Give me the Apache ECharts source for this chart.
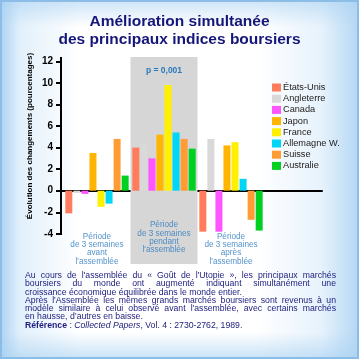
<!DOCTYPE html>
<html>
<head>
<meta charset="utf-8">
<script src="https://cdn.jsdelivr.net/npm/echarts@6/dist/echarts.min.js"></script>
<style>
  html, body { margin:0; padding:0; }
  #wrap {
    position:relative; width:359px; height:359px; box-sizing:border-box;
    border:2px solid #8BBDE6;
    background:
      linear-gradient(to bottom, rgba(170,210,242,0.55) 0%, rgba(255,255,255,0) 7%, rgba(255,255,255,0) 93%, rgba(170,210,242,0.6) 100%),
      linear-gradient(to right, #b0d5f3 0%, #e2f0fb 5%, #ffffff 22%, #ffffff 72%, #e6f2fc 90%, #b6d8f4 100%);
    overflow:hidden;
  }
  #chart { position:absolute; left:-2px; top:-2px; width:359px; height:359px; }
  #caption {
    position:absolute; left:23px; top:269px; width:311px;
    font-family:"Liberation Sans", Arial, sans-serif; font-size:8.7px; line-height:8.3px;
    color:#1c1c7c;
  }
  #caption div { white-space:nowrap; }
  #caption .j { text-align:justify; text-align-last:justify; }
</style>
</head>
<body>
<div id="wrap">
  <div id="chart"></div>
  <div id="caption">
    <div class="j">Au cours de l'assemblée du « Goût de l'Utopie », les principaux marchés</div>
    <div class="j">boursiers du monde ont augmenté indiquant simultanément une</div>
    <div>croissance économique équilibrée dans le monde entier.</div>
    <div class="j">Après l'Assemblée les mêmes grands marchés boursiers sont revenus à un</div>
    <div class="j">modèle similaire à celui observé avant l'assemblée, avec certains marchés</div>
    <div>en hausse, d’autres en baisse.</div>
    <div><b>Référence</b> : <i>Collected Papers</i>, Vol. 4 : 2730-2762, 1989.</div>
  </div>
</div>
<script>
const titleText = 'Amélioration simultanée\ndes principaux indices boursiers';
const yAxisTitle = 'Évolution des changements (pourcentages)';
const categories = ["Période\nde 3 semaines\navant\nl'assemblée", "Période\nde 3 semaines\npendant\nl'assemblée", "Période\nde 3 semaines\naprès\nl'assemblée"];
const countries = ['États-Unis', 'Angleterre', 'Canada', 'Japon', 'France', 'Allemagne W.', 'Suisse', 'Australie'];
const etatsUnis  = [-2.1, 4.0, -3.8];
const angleterre = [-0.2, 4.4, 4.8];
const canada     = [-0.3, 3.0, -3.8];
const japon      = [3.5, 5.2, 4.2];
const france     = [-1.5, 9.8, 4.5];
const allemagne  = [-1.2, 5.4, 1.1];
const suisse     = [4.8, 4.8, -2.7];
const australie  = [1.4, 3.9, -3.7];
const yTicks = [-4, -2, 0, 2, 4, 6, 8, 10, 12];
const pValue = 'p = 0,001';

const seriesValues = [etatsUnis, angleterre, canada, japon, france, allemagne, suisse, australie];
const colors = ['#FF7C5C', '#D9D9D9', '#FF55FF', '#FFB400', '#FFF000', '#00D6F6', '#FF9C33', '#00D020'];

const X_MIN = -0.537, X_MAX = 3.358;
const Y_MIN = -6.8, Y_MAX = 12.4;
const blue = '#2878BE';
const FONT = 'Liberation Sans, Arial, sans-serif';

const series = seriesValues.map((vals, k) => {
  const s = {
    name: countries[k],
    type: 'bar',
    barWidth: 7,
    barGap: '15%',
    itemStyle: { color: colors[k] },
    data: vals.map((v, i) => [i, v])
  };
  if (k === 0) {
    s.markArea = {
      silent: true,
      itemStyle: { color: '#D6D6D6' },
      label: { show: true, position: 'insideTop', distance: 9, color: blue, fontSize: 8.5, fontWeight: 'bold', fontFamily: FONT },
      data: [[{ xAxis: 0.5, name: pValue }, { xAxis: 1.5 }]]
    };
  }
  return s;
});

series.push({
  name: 'periodes',
  type: 'scatter',
  symbolSize: 0,
  silent: true,
  clip: false,
  z: 5,
  label: {
    show: true, position: 'inside', color: blue, fontSize: 8.2, lineHeight: 8.3,
    fontFamily: FONT, align: 'center', verticalAlign: 'middle'
  },
  data: categories.map((c, i) => ({ value: [i, i === 1 ? -4.35 : -5.4], label: { formatter: c } })),
  markLine: {
    silent: true, symbol: 'none', animation: false,
    lineStyle: { color: '#000', width: 2, type: 'solid' },
    label: { show: false },
    data: [[{ coord: [X_MIN, yTicks[0] - 0.1] }, { coord: [X_MIN, Y_MAX] }]]
  }
});

const chart = echarts.init(document.getElementById('chart'), null, { renderer: 'canvas' });
chart.setOption({
  animation: false,
  backgroundColor: 'transparent',
  textStyle: { fontFamily: FONT },
  title: {
    text: titleText,
    left: 'center',
    top: 8,
    textStyle: { color: '#16167A', fontSize: 15.5, fontWeight: 'bold', lineHeight: 18, fontFamily: FONT }
  },
  legend: {
    data: countries,
    orient: 'vertical',
    left: 267,
    top: 77,
    itemWidth: 9,
    itemHeight: 8,
    itemGap: 0.2,
    icon: 'rect',
    textStyle: { fontSize: 9.2, lineHeight: 11, color: '#222', padding: [0, 0, 0, -3], fontFamily: FONT }
  },
  grid: { left: 61, right: 37, top: 57, bottom: 95, containLabel: false },
  xAxis: {
    type: 'value', min: X_MIN, max: X_MAX,
    splitLine: { show: false },
    axisLabel: { show: false },
    axisTick: { show: false },
    axisLine: { show: true, onZero: true, lineStyle: { color: '#000', width: 2 } }
  },
  yAxis: {
    type: 'value', min: Y_MIN, max: Y_MAX,
    splitLine: { show: false },
    axisLine: { show: false, onZero: false },
    axisTick: { show: true, customValues: yTicks, length: 5, inside: false, lineStyle: { color: '#000', width: 2 } },
    axisLabel: { show: true, customValues: yTicks, color: '#000', fontSize: 10, fontWeight: 'bold', margin: 8, fontFamily: FONT }
  },
  graphic: [{
    type: 'text',
    x: 30, y: 136,
    rotation: Math.PI / 2,
    style: {
      text: yAxisTitle, fill: '#000', font: 'bold 8px "Liberation Sans", Arial, sans-serif',
      align: 'center', verticalAlign: 'middle'
    }
  }],
  series: series
});
</script>
</body>
</html>
